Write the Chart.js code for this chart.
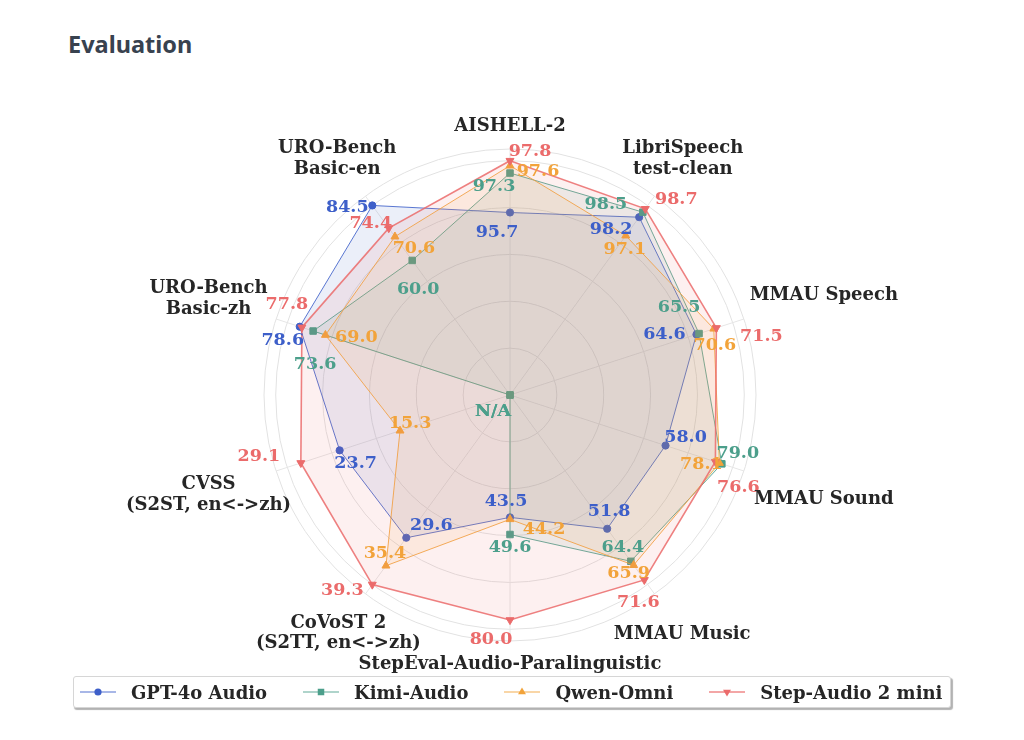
<!DOCTYPE html>
<html>
<head>
<meta charset="utf-8">
<title>Evaluation</title>
<script src="https://cdn.jsdelivr.net/npm/chart.js@4.4.0/dist/chart.umd.min.js"></script>
<style>
    html, body { margin: 0; padding: 0; background: #fff; }
    #wrap { position: relative; width: 1024px; height: 740px; overflow: hidden; }
    #title {
        position: absolute; left: 68px; top: 32px; margin: 0;
        font: 700 23.5px/25px "Noto Sans", sans-serif; color: #38424f;
    }
    #radar { position: absolute; left: 0; top: 0; }
    #legend {
        position: absolute; left: 73px; top: 676px; height: 30px;
        display: flex; align-items: center; padding: 0 8px 0 6px;
        border: 1px solid #d6d6d6; border-radius: 3px; background: #fff;
        box-shadow: 1.5px 2px 1px rgba(0, 0, 0, 0.3);
        font: bold 18px "DejaVu Serif", serif; color: #262626; white-space: nowrap;
    }
    #legend .item { display: flex; align-items: center; margin-right: 36px; }
    #legend .item:last-child { margin-right: 0; }
    #legend canvas { margin-right: 15px; }
</style>
</head>
<body>
<div id="wrap">
    <h2 id="title">Evaluation</h2>
    <canvas id="radar" width="1024" height="740"></canvas>
    <div id="legend"></div>
</div>
<script>
////////////////////////////////////////////////////////////////////////////////
// data
////////////////////////////////////////////////////////////////////////////////
const CATEGORIES = [
    ["AISHELL-2"],
    ["LibriSpeech", "test-clean"],
    ["MMAU Speech"],
    ["MMAU Sound"],
    ["MMAU Music"],
    ["StepEval-Audio-Paralinguistic"],
    ["CoVoST 2", "(S2TT, en<->zh)"],
    ["CVSS", "(S2ST, en<->zh)"],
    ["URO-Bench", "Basic-zh"],
    ["URO-Bench", "Basic-en"],
];
const SERIES_NAMES = ["GPT-4o Audio", "Kimi-Audio", "Qwen-Omni", "Step-Audio 2 mini"];
const GPT4O_AUDIO = [95.7, 98.2, 64.6, 58.0, 51.8, 43.5, 29.6, 23.7, 78.6, 84.5];
const KIMI_AUDIO = [97.3, 98.5, 65.5, 79.0, 64.4, 49.6, null, null, 73.6, 60.0];   // null = N/A
const QWEN_OMNI = [97.6, 97.1, 70.6, 78.1, 65.9, 44.2, 35.4, 15.3, 69.0, 70.6];
const STEP_AUDIO_2_MINI = [97.8, 98.7, 71.5, 76.6, 71.6, 80.0, 39.3, 29.1, 77.8, 74.4];

// each axis is scaled on its own: AXIS_LO sits at the centre, AXIS_HI on ring 1.0
const AXIS_LO = [88.3, 87.6, 0, 0, 0, 0, 0, 0, 0, 0];
const AXIS_HI = [97.8, 98.9, 77.2, 83.1, 73.4, 83.3, 39.3, 31.0, 83.3, 84.5];
const RING_TICKS = [0, 0.2, 0.4, 0.6, 0.8, 1.0, 1.05];

////////////////////////////////////////////////////////////////////////////////
// styles
////////////////////////////////////////////////////////////////////////////////
const COLORS = ["#3d5fc9", "#4c9f8b", "#f2a33a", "#eb6b6b"];
const MARKERS = [
    { style: "circle", radius: 3.6, rotation: 0 },
    { style: "rect", radius: 4.6, rotation: 0 },
    { style: "triangle", radius: 4.6, rotation: 0 },
    { style: "triangle", radius: 4.6, rotation: 180 },
];
const LINE_WIDTHS = [1, 1, 1, 1.6];
const AXIS_FONT = 18;
const VALUE_FONT = 17.5;
const SERIF = "\"DejaVu Serif\", serif";
// distance of the category labels beyond the outer ring (px)
const LABEL_GAP = [25, 48, 84, 84, 47, 21, 46, 71, 71, 48];
// value label offset from its point (px), [series][axis]
const VALUE_OFFSETS = [
    [[-13, 18], [-28, 10], [-32, -2], [20, -10], [2, -19], [-4, -18], [25, -14], [16, 11], [-17, 12], [-25, 0]],
    [[-16, 12], [-37, -10], [-20, -28], [16, -12], [-8, -16], [0, 11], [-17, 15], [-17, 15], [2, 32], [6, 27]],
    [[28, 4], [-1, 12], [1, 15], [-18, 0], [-5, 6], [34, 8], [-1, -14], [10, -9], [31, 1], [19, 10]],
    [[20, -11], [31, -11], [45, 7], [23, 24], [-6, 21], [-19, 18], [-30, 4], [-42, -8], [-15, -25], [-18, -6]],
];

const hexA = (hex, a)=>{
    const n = parseInt(hex.slice(1), 16);
    return `rgba(${(n >> 16) & 255},${(n >> 8) & 255},${n & 255},${a})`;
};

const normalise = (values)=>values.map((v, i)=>{
    if(v === null) return 0;
    return (v - AXIS_LO[i]) / (AXIS_HI[i] - AXIS_LO[i]);
});

////////////////////////////////////////////////////////////////////////////////
// text plugin (value labels + category labels)
////////////////////////////////////////////////////////////////////////////////
const RAW = [GPT4O_AUDIO, KIMI_AUDIO, QWEN_OMNI, STEP_AUDIO_2_MINI];

const textPlugin = {
    id: "radarText",
    afterDatasetsDraw(chart){
        const ctx = chart.ctx;
        const scale = chart.scales.r;
        ctx.save();
        ctx.textAlign = "center";
        ctx.textBaseline = "alphabetic";

        // values
        ctx.font = `bold ${VALUE_FONT}px ${SERIF}`;
        let capH = VALUE_FONT * 0.729;
        RAW.forEach((vals, s)=>{
            const meta = chart.getDatasetMeta(s);
            ctx.fillStyle = COLORS[s];
            vals.forEach((v, i)=>{
                const pt = meta.data[i];
                const off = VALUE_OFFSETS[s][i];
                const txt = v === null ? "N/A" : v.toFixed(1);
                ctx.fillText(txt, pt.x + off[0], pt.y + off[1] + capH / 2);
            });
        });

        // categories
        ctx.font = `bold ${AXIS_FONT}px ${SERIF}`;
        ctx.fillStyle = "#262626";
        capH = AXIS_FONT * 0.729;
        CATEGORIES.forEach((lines, i)=>{
            const p = scale.getPointPosition(i, scale.drawingArea + LABEL_GAP[i]);
            lines.forEach((t, k)=>{
                const cy = p.y + (k - (lines.length - 1) / 2) * 20.5;
                ctx.fillText(t, p.x, cy + capH / 2);
            });
        });
        ctx.restore();
    },
};

////////////////////////////////////////////////////////////////////////////////
// chart
////////////////////////////////////////////////////////////////////////////////
let myChart = null;

const createChart = ()=>{
    const canvas = document.querySelector("#radar");
    const datasets = RAW.map((vals, s)=>({
        label: SERIES_NAMES[s],
        data: normalise(vals),
        borderColor: hexA(COLORS[s], 0.85),
        backgroundColor: hexA(COLORS[s], 0.1),
        borderWidth: LINE_WIDTHS[s],
        fill: true,
        tension: 0,
        pointStyle: MARKERS[s].style,
        pointRadius: MARKERS[s].radius,
        pointRotation: MARKERS[s].rotation,
        pointBackgroundColor: COLORS[s],
        pointBorderColor: COLORS[s],
        pointBorderWidth: 1,
        order: RAW.length - 1 - s,   // later series on top
    }));

    myChart = new Chart(canvas, {
        type: "radar",
        data: { labels: CATEGORIES, datasets },
        options: {
            responsive: false,
            animation: false,
            layout: { padding: { left: 264, right: 268, top: 149, bottom: 99 } },
            plugins: {
                legend: { display: false },
                title: { display: false },
                tooltip: { enabled: false },
            },
            scales: {
                r: {
                    min: 0,
                    max: 1.05,
                    afterBuildTicks: (scale)=>{
                        scale.ticks = RING_TICKS.map((v)=>({ value: v }));
                    },
                    ticks: { display: false },
                    pointLabels: { display: false },
                    grid: { circular: true, color: "#e2e2e2", lineWidth: 1 },
                    angleLines: { display: true, color: "#e6e6e6", lineWidth: 1 },
                },
            },
        },
        plugins: [textPlugin],
    });
};

////////////////////////////////////////////////////////////////////////////////
// legend
////////////////////////////////////////////////////////////////////////////////
const drawMarker = (ctx, m, x, y, color)=>{
    ctx.fillStyle = color;
    ctx.beginPath();
    if(m.style === "circle"){
        ctx.arc(x, y, m.radius, 0, Math.PI * 2);
    }else if(m.style === "rect"){
        const h = m.radius * Math.SQRT1_2;
        ctx.rect(x - h, y - h, 2 * h, 2 * h);
    }else{
        let a = m.rotation * Math.PI / 180;
        for(let k = 0; k < 3; k++){
            const px = x + Math.sin(a) * m.radius;
            const py = y - Math.cos(a) * m.radius;
            if(k === 0) ctx.moveTo(px, py); else ctx.lineTo(px, py);
            a += Math.PI * 2 / 3;
        }
        ctx.closePath();
    }
    ctx.fill();
};

const createLegend = ()=>{
    const box = document.querySelector("#legend");
    myChart.data.datasets.forEach((ds, s)=>{
        const item = document.createElement("div");
        item.className = "item";
        const sw = document.createElement("canvas");
        sw.width = 36; sw.height = 14;
        const c = sw.getContext("2d");
        c.strokeStyle = hexA(COLORS[s], 0.6);
        c.lineWidth = LINE_WIDTHS[s] + 0.5;
        c.beginPath(); c.moveTo(0, 7); c.lineTo(36, 7); c.stroke();
        drawMarker(c, MARKERS[s], 18, 7, COLORS[s]);
        const txt = document.createElement("span");
        txt.textContent = ds.label;
        item.appendChild(sw);
        item.appendChild(txt);
        box.appendChild(item);
    });
};

createChart();
createLegend();
</script>
</body>
</html>
